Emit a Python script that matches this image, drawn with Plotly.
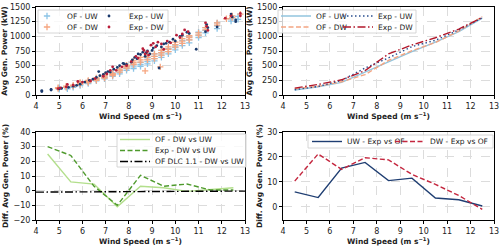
import plotly.graph_objects as go

# ---------------- data ----------------
of_uw_ws = [5.0, 5.0, 5.0, 5.35, 5.35, 5.35, 5.6, 5.6, 5.9, 5.9, 5.9, 6.25, 6.25, 6.25,
            6.6, 6.6, 6.6, 6.95, 6.95, 6.95, 7.3, 7.3, 7.3, 7.6, 7.6, 7.6, 7.9, 7.9, 7.9,
            8.2, 8.2, 8.2, 8.5, 8.5, 8.5, 8.8, 8.8, 8.8, 8.8, 9.1, 9.1, 9.1, 9.1,
            9.4, 9.4, 9.4, 9.4, 9.7, 9.7, 9.7, 10.0, 10.0, 10.0, 10.3, 10.3, 10.3,
            10.6, 10.6, 10.6, 11.0, 11.0, 11.0, 11.3, 11.3, 11.3, 11.8, 11.8, 11.8,
            12.4, 12.4, 12.7, 12.7]
of_uw_p = [95, 110, 125, 105, 120, 140, 130, 150, 160, 180, 200, 195, 215, 235,
           240, 260, 285, 275, 300, 325, 320, 345, 375, 360, 390, 420, 420, 450, 480,
           450, 480, 515, 490, 520, 555, 530, 570, 610, 640, 580, 620, 660, 700,
           640, 680, 720, 760, 700, 740, 790, 770, 810, 850, 840, 880, 930,
           890, 940, 990, 980, 1020, 1070, 1060, 1100, 1150, 1130, 1180, 1230,
           1260, 1300, 1290, 1340]

of_dw_ws = [4.95, 4.95, 5.3, 5.3, 5.6, 5.6, 5.9, 5.9, 5.9, 6.25, 6.25, 6.25, 6.6, 6.6, 6.6,
            6.95, 6.95, 6.95, 7.3, 7.3, 7.3, 7.6, 7.6, 7.6, 7.9, 7.9, 7.9, 8.2, 8.2, 8.2,
            8.5, 8.5, 8.5, 8.7, 8.8, 8.8, 8.8, 9.1, 9.1, 9.1, 9.35, 9.4, 9.4, 9.4,
            9.7, 9.7, 9.7, 10.0, 10.0, 10.0, 10.3, 10.3, 10.3, 10.6, 10.6, 10.6,
            11.0, 11.0, 11.3, 11.3, 11.8, 11.8, 12.2, 12.45, 12.45, 12.8]
of_dw_p = [110, 125, 130, 150, 150, 170, 180, 200, 215, 210, 230, 250, 250, 270, 290,
           290, 310, 335, 330, 350, 370, 390, 420, 440, 460, 490, 510, 520, 550, 580,
           560, 600, 640, 410, 600, 640, 680, 620, 660, 700, 480, 680, 720, 760,
           740, 780, 820, 820, 860, 900, 880, 920, 960, 940, 980, 1010,
           1020, 1060, 1110, 1150, 1190, 1230, 1300, 1320, 1350, 1380]

exp_uw_ws = [4.25, 4.25, 4.65, 4.65, 5.0, 5.1, 5.4, 5.6, 5.75, 5.9, 6.1, 6.3, 6.45, 6.6,
             6.7, 6.75, 6.9, 7.0, 7.1, 7.2, 7.35, 7.5, 7.6, 7.75, 7.8, 7.9, 8.1, 8.15,
             8.25, 8.35, 8.4, 8.5, 8.6, 8.7, 8.75, 8.8, 8.9, 9.0, 9.05, 9.2, 9.3, 9.4,
             9.5, 9.6, 9.75, 9.9, 10.0, 10.2, 10.3, 10.5, 10.6, 10.9, 11.3, 11.35,
             11.4, 11.8, 12.4, 12.45, 12.6, 12.6]
exp_uw_p = [60, 75, 85, 95, 105, 115, 130, 150, 165, 185, 220, 250, 270, 300,
            400, 330, 350, 380, 400, 390, 440, 470, 500, 540, 530, 520, 560, 600,
            640, 620, 700, 690, 730, 660, 720, 750, 700, 760, 800, 840, 460, 820,
            870, 880, 900, 950, 920, 1000, 1020, 1070, 1050, 780, 1080, 1200,
            1150, 1160, 1380, 1330, 1250, 1280]

exp_dw_ws = [4.95, 5.05, 5.3, 5.35, 5.6, 5.8, 6.0, 6.35, 6.55, 6.9, 7.05, 7.2, 7.3, 7.45,
             7.7, 7.9, 8.1, 8.3, 8.4, 8.6, 8.65, 8.7, 8.8, 8.85, 8.95, 9.05, 9.15, 9.25,
             9.4, 9.5, 9.65, 9.8, 10.05, 10.2, 10.3, 10.4, 10.55, 11.3, 11.35, 11.4,
             12.15, 12.4, 12.8, 12.8]
exp_dw_p = [110, 120, 140, 180, 170, 230, 220, 240, 280, 320, 360, 420, 480, 420,
            480, 500, 570, 660, 630, 790, 760, 700, 740, 680, 850, 880, 820, 900,
            870, 780, 920, 890, 1020, 980, 1040, 1110, 1080, 1230, 1170, 1100,
            1310, 1350, 1390, 1350]

bin_ws = [4.5, 5.5, 6.5, 7.5, 8.5, 9.5, 10.5, 11.5, 12.5]
of_uw_mean = [85, 140, 215, 390, 572, 740, 900, 1080, 1310]
of_dw_mean = [106, 148, 225, 347, 589, 755, 895, 1091, 1336]
exp_uw_mean = [90, 145, 248, 459, 632, 825, 932, 1110, 1314]
exp_dw_mean = [117, 180, 259, 415, 700, 853, 976, 1124, 1323]

of_dw_vs_uw = [25, 6, 4.5, -11, 3, 2, -0.5, 1, 2]
exp_dw_vs_uw = [30, 24, 3, -10, 10.5, 3, 4.5, 0.5, 0.5]
dlc_ws = [4, 5, 6, 7, 8, 9, 10, 11, 12, 13]
dlc_dw_vs_uw = [-1.0, -1.0, -0.9, -0.9, -0.7, -0.6, -0.5, -0.4, -0.3, -0.3]
uw_exp_vs_of = [6, 3.7, 15.5, 17.8, 10.5, 11.5, 3.5, 2.8, 0.3]
dw_exp_vs_of = [10.3, 21.2, 15, 19.7, 18.8, 13, 9, 4.5, -1]

# ---------------- style ----------------
C_OFUW = '#8cc4e6'
C_OFDW = '#f6a680'
C_EXUW = '#1b3a6c'
C_EXDW = '#b91e3a'
C_LOFUW = '#92c5de'
C_LOFDW = '#f4a582'
C_LEXUW = '#2a4f8f'
C_LEXDW = '#b2182b'
C_G1 = '#b3df8c'
C_G2 = '#4e9a2c'
C_BRUW = '#1f3e72'
C_BRDW = '#c4263e'

FONT = 'DejaVu Sans'
W, H = 500, 247
LW = 1.4
DASH = '5px,2.5px'
DOT = '1.5px,2.5px'
DASHDOT = '8px,2.5px,1.5px,2.5px'


def px_x(p):
    return p / W


def px_y(p):
    return 1 - p / H


legfont = dict(family=FONT, size=7.5, color='#222')
layout_legends = {}
counter = [0]


def legend_at(xp, yp):
    counter[0] += 1
    key = 'legend' if counter[0] == 1 else 'legend%d' % counter[0]
    layout_legends[key] = dict(x=px_x(xp), y=px_y(yp), xanchor='left', yanchor='middle',
                               bgcolor='rgba(0,0,0,0)', borderwidth=0, font=legfont,
                               itemwidth=30, tracegroupgap=0, orientation='v')
    return key


fig = go.Figure()


def add(x, y, name, ax, lx, ly, **kw):
    fig.add_trace(go.Scatter(x=x, y=y, name=name, xaxis='x' + ax, yaxis='y' + ax,
                             legend=legend_at(lx, ly), **kw))


# top-left scatter
add(of_uw_ws, of_uw_p, 'OF - UW', '', 27, 16, mode='markers',
    marker=dict(symbol='cross-thin', size=4.5, color=C_OFUW, line=dict(color=C_OFUW, width=1.3)))
add(of_dw_ws, of_dw_p, 'OF - DW', '', 27, 27, mode='markers',
    marker=dict(symbol='cross-thin', size=4.5, color=C_OFDW, line=dict(color=C_OFDW, width=1.3)))
add(exp_uw_ws, exp_uw_p, 'Exp - UW', '', 89, 16, mode='markers',
    marker=dict(symbol='circle', size=2.8, color=C_EXUW))
add(exp_dw_ws, exp_dw_p, 'Exp - DW', '', 89, 27, mode='markers',
    marker=dict(symbol='circle', size=2.8, color=C_EXDW))

# top-right lines
add(bin_ws, of_uw_mean, 'OF - UW', '2', 276, 16, mode='lines',
    line=dict(color=C_LOFUW, width=LW))
add(bin_ws, of_dw_mean, 'OF - DW', '2', 276, 27, mode='lines',
    line=dict(color=C_LOFDW, width=LW, dash=DASH))
add(bin_ws, exp_uw_mean, 'Exp - UW', '2', 338, 16, mode='lines',
    line=dict(color=C_LEXUW, width=LW, dash=DOT))
add(bin_ws, exp_dw_mean, 'Exp - DW', '2', 338, 27, mode='lines',
    line=dict(color=C_LEXDW, width=LW, dash=DASHDOT))

# bottom-left
add(bin_ws, of_dw_vs_uw, 'OF - DW vs UW', '3', 115, 139.5, mode='lines',
    line=dict(color=C_G1, width=LW))
add(bin_ws, exp_dw_vs_uw, 'Exp - DW vs UW', '3', 115, 150.5, mode='lines',
    line=dict(color=C_G2, width=LW, dash=DASH))
add(dlc_ws, dlc_dw_vs_uw, 'OF DLC 1.1 - DW vs UW', '3', 115, 161.5, mode='lines',
    line=dict(color='black', width=LW, dash=DASHDOT))

# bottom-right
add(bin_ws, uw_exp_vs_of, 'UW - Exp vs OF', '4', 307, 141.5, mode='lines',
    line=dict(color=C_BRUW, width=LW))
add(bin_ws, dw_exp_vs_of, 'DW - Exp vs OF', '4', 390, 141.5, mode='lines',
    line=dict(color=C_BRDW, width=LW, dash=DASH))

tickfont = dict(family=FONT, size=8, color='#222')
titlefont = dict(family=FONT, size=7.5, color='#222')
xtitle = '<b>Wind Speed (m s<sup>−1</sup>)</b>'
GRID = '#dcdcdc'


def xax(dom, anchor):
    return dict(domain=dom, anchor=anchor, range=[4, 13], dtick=1, tick0=4,
                showline=True, linecolor='black', linewidth=1, mirror=True,
                ticks='outside', ticklen=3, tickcolor='black', tickfont=tickfont,
                showgrid=True, gridcolor=GRID, griddash='dash', gridwidth=0.8,
                zeroline=False, automargin=False,
                title=dict(text=xtitle, font=titlefont, standoff=3))


def yax(dom, anchor, rng, dtick, title, tickvals=None):
    d = dict(domain=dom, anchor=anchor, range=rng, dtick=dtick,
             showline=True, linecolor='black', linewidth=1, mirror=True,
             ticks='outside', ticklen=3, tickcolor='black', tickfont=tickfont,
             showgrid=True, gridcolor=GRID, griddash='dash', gridwidth=0.8,
             zeroline=False, automargin=False,
             title=dict(text='<b>' + title + '</b>', font=titlefont, standoff=3))
    if tickvals is not None:
        d['tickvals'] = tickvals
    return d


xL = [px_x(36), px_x(245)]
xR = [px_x(283), px_x(494)]
yT = [px_y(95), px_y(7)]
yB = [px_y(220), px_y(132)]

fig.update_layout(
    width=W, height=H, margin=dict(l=0, r=0, t=0, b=0),
    paper_bgcolor='white', plot_bgcolor='white',
    font=dict(family=FONT, size=8),
    xaxis=xax(xL, 'y'), yaxis=yax(yT, 'x', [0, 1500], 250, 'Avg Gen. Power (kW)'),
    xaxis2=xax(xR, 'y2'), yaxis2=yax(yT, 'x2', [0, 1500], 250, 'Avg Gen. Power (kW)'),
    xaxis3=xax(xL, 'y3'),
    yaxis3=yax(yB, 'x3', [-20, 40], 10, 'Diff. Avg Gen. Power (%)'),
    xaxis4=xax(xR, 'y4'),
    yaxis4=yax(yB, 'x4', [-5.3, 30], 10, 'Diff. Avg Gen. Power (%)', [0, 10, 20, 30]),
    showlegend=True,
    **layout_legends,
)

# legend frames (matplotlib style boxes)
boxes = [(38, 10, 168, 33), (278, 10, 416, 33), (117, 134, 246, 167), (308, 135, 493, 148)]
for (x0, y0, x1, y1) in boxes:
    fig.add_shape(type='rect', xref='paper', yref='paper',
                  x0=px_x(x0), x1=px_x(x1), y0=px_y(y1), y1=px_y(y0),
                  line=dict(color='#cccccc', width=0.8),
                  fillcolor='rgba(255,255,255,0.8)', layer='above')

fig.write_html('out.html', config={'displayModeBar': False},
               post_script="document.body.style.margin='0';document.body.style.overflow='hidden';")
